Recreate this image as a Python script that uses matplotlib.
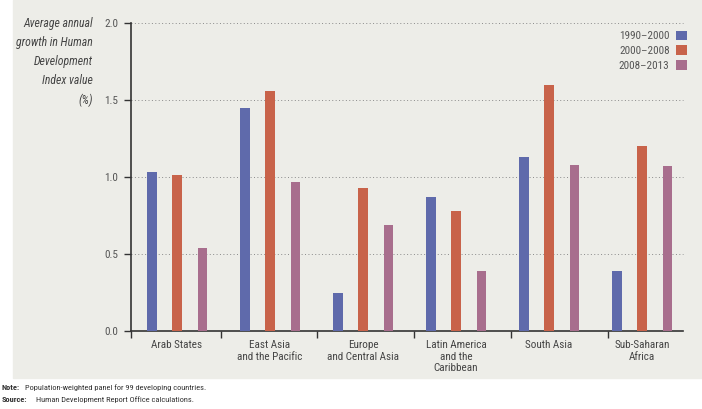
import numpy as np
import matplotlib.pyplot as plt
from matplotlib.patches import Rectangle

regions = ['Arab States', 'East Asia\nand the Pacific', 'Europe\nand Central Asia',
           'Latin America\nand the\nCaribbean', 'South Asia', 'Sub-Saharan\nAfrica']
periods = ['1990\u20132000', '2000\u20132008', '2008\u20132013']
v_1990_2000 = [1.03, 1.45, 0.25, 0.87, 1.13, 0.39]
v_2000_2008 = [1.01, 1.56, 0.93, 0.78, 1.60, 1.20]
v_2008_2013 = [0.54, 0.97, 0.69, 0.39, 1.08, 1.07]
colors = ['#5F6AAB', '#C8634A', '#A86E8D']

plt.rcParams['font.family'] = ['Roboto Condensed', 'Liberation Sans Narrow', 'Roboto', 'DejaVu Sans']

fig = plt.figure(figsize=(7.02, 4.09), dpi=100)
# light panel behind the chart
fig.patches.append(Rectangle((13 / 702, 31 / 409), 1 - 13 / 702, 1 - 31 / 409,
                             transform=fig.transFigure, color='#EDEDE8', zorder=-10))

ax = fig.add_axes([131 / 702, 78 / 409, 552 / 702, 308 / 409])
ax.set_facecolor('none')

x = np.arange(len(regions))
w = 0.1
off = 0.27
for vals, c, lab, dx in zip([v_1990_2000, v_2000_2008, v_2008_2013], colors, periods, [-off, 0, off]):
    ax.bar(x + dx, vals, width=w, color=c, label=lab, zorder=3)

ax.set_xlim(-0.495, 5.44)
ax.set_ylim(0, 2.0)
ax.set_yticks([0, 0.5, 1.0, 1.5, 2.0])
ax.set_yticklabels(['0.0', '0.5', '1.0', '1.5', '2.0'])
for y in [0.5, 1.0, 1.5, 2.0]:
    ax.plot([-0.495, 5.44], [y, y], ls=(0, (1, 2.5)), color='#8a8a8a', lw=0.7,
            clip_on=False, zorder=1)

ax.set_xticks([-0.495, 0.47, 1.5, 2.55, 3.59, 4.63])
ax.set_xticklabels([])
for i, r in enumerate(regions):
    ax.text(i, -0.06, r, ha='center', va='top', fontsize=8, color='#444444',
            linespacing=1.2)

ax.tick_params(axis='y', direction='out', length=5, width=1, labelsize=8,
               colors='#333333', labelcolor='#555555', pad=4)
ax.tick_params(axis='x', direction='out', length=5, width=1, colors='#333333')
for s in ['top', 'right']:
    ax.spines[s].set_visible(False)
for s in ['left', 'bottom']:
    ax.spines[s].set_color('#333333')
    ax.spines[s].set_linewidth(1.2)

fig.text(93 / 702, 1 - 17 / 409,
         'Average annual\ngrowth in Human\nDevelopment\nIndex value\n(%)',
         ha='right', va='top', style='italic', fontsize=8.5, color='#444444',
         linespacing=1.6)

leg = ax.legend(loc='upper right', bbox_to_anchor=(1.016, 0.99), frameon=False,
                markerfirst=False, fontsize=8, handlelength=1.0, handleheight=1.0,
                labelspacing=0.35, handletextpad=0.6, borderaxespad=0)
for t in leg.get_texts():
    t.set_color('#555555')

fig.text(2 / 702, 1 - 388 / 409, 'Note:', fontweight='bold',
         ha='left', va='center', fontsize=6, color='#333333')
fig.text(25 / 702, 1 - 388 / 409, 'Population-weighted panel for 99 developing countries.',
         ha='left', va='center', fontsize=6, color='#333333')
fig.text(2 / 702, 1 - 400 / 409, 'Source:', fontweight='bold',
         ha='left', va='center', fontsize=6, color='#333333')
fig.text(36 / 702, 1 - 400 / 409, 'Human Development Report Office calculations.',
         ha='left', va='center', fontsize=6, color='#333333')

fig.savefig('out.png', dpi=100)
